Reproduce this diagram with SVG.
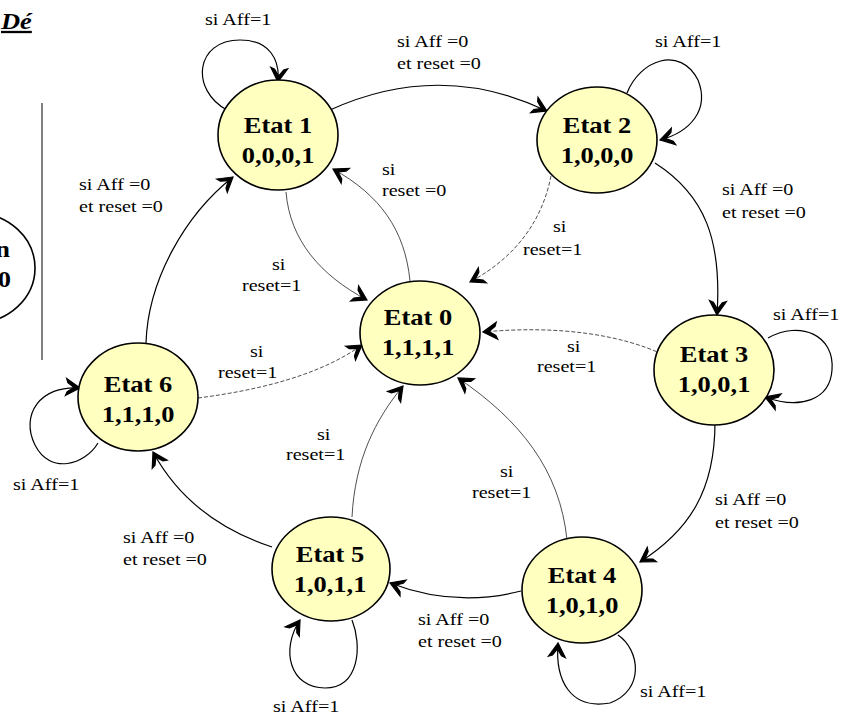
<svg xmlns="http://www.w3.org/2000/svg" width="842" height="718" viewBox="0 0 842 718">
  <defs>
    <style>
      .state ellipse { fill: #ffffc0; stroke: #000; stroke-width: 1.6; }
      .st { font-family: "Liberation Serif", "Times New Roman", serif; font-weight: bold; font-size: 23px; text-anchor: middle; fill: #000; }
      .lbl { font-family: "Liberation Serif", "Times New Roman", serif; font-size: 17.5px; fill: #000; }
      .aff { fill: none; stroke: #000; stroke-width: 1.2; marker-end: url(#head); }
      .rst { fill: none; stroke: #222; stroke-width: 0.8; marker-end: url(#head); }
      .rst.dash { stroke-dasharray: 4 2; }
    </style>
    <!-- barbed chevron arrowhead, tip at the path end -->
    <marker id="head" markerUnits="userSpaceOnUse" markerWidth="22" markerHeight="22" viewBox="-17 -11 22 22" refX="0" refY="0" orient="auto">
      <path d="M0,0 L-14,-8.5 L-12.5,-4.5 L-6,0 L-12.5,4.5 L-14,8.5 Z" fill="#000" stroke="#000" stroke-width="1.2" stroke-linejoin="miter"/>
    </marker>
  </defs>

  <rect width="842" height="718" fill="#fff"/>

  <!-- heading fragment and side panel at the left edge -->
  <g id="side-panel">
    <text class="st" style="font-style:italic;text-anchor:start;text-decoration:underline" transform="matrix(1.15 0 0 1 1 29)">Dé</text>
    <line x1="42" y1="103" x2="42" y2="360" stroke="#555" stroke-width="1.5"/>
  </g>
  <g id="node-partial">
    <ellipse cx="-25" cy="268" rx="60" ry="55" fill="none" stroke="#000" stroke-width="1.6"/>
    <text class="st" style="text-anchor:end" transform="matrix(1.15 0 0 1 10 257)">n</text>
    <text class="st" style="text-anchor:end" transform="matrix(1.15 0 0 1 11 287)">0</text>
  </g>

  <!-- transitions -->
  <g id="connectors">
    <!-- state-to-state when Aff=0 and reset=0 -->
    <path class="aff" d="M330,110 Q440,60 547,111"/>
    <path class="aff" d="M655,163 C705,195 722,240 717,315"/>
    <path class="aff" d="M715,422 C715,490 690,530 640,562"/>
    <path class="aff" d="M521,591 Q455,608 390,583"/>
    <path class="aff" d="M272,547 Q190,520 153,452"/>
    <path class="aff" d="M146,343 C148,280 185,215 233,177"/>
    <!-- self loops when Aff=1 -->
    <path class="aff" d="M227,110 C190,90 195,40 240,40 C270,40 280,60 278,82"/>
    <path class="aff" d="M627,93 C640,60 680,45 698,80 C710,110 690,132 660,140"/>
    <path class="aff" d="M768,338 C800,320 835,335 832,370 C830,400 800,410 765,397"/>
    <path class="aff" d="M618,635 C640,650 645,690 610,703 C570,710 555,680 558,643"/>
    <path class="aff" d="M352,620 C362,645 360,688 325,688 C290,688 280,650 300,620"/>
    <path class="aff" d="M98,443 C85,465 50,475 35,445 C20,415 40,385 80,388"/>
    <!-- reset transitions -->
    <path class="rst" d="M286,192 C290,240 320,275 367,300"/>
    <path class="rst" d="M410,281 C405,230 380,195 333,169"/>
    <path class="rst dash" d="M552,170 C545,215 520,255 470,282"/>
    <path class="rst dash" d="M662,354 C620,335 560,325 483,332"/>
    <path class="rst dash" d="M198,398 C260,390 320,375 362,345"/>
    <path class="rst" d="M352,517 C355,460 375,420 403,386"/>
    <path class="rst" d="M567,540 C560,470 520,420 458,378"/>
  </g>

  <!-- states -->
  <g id="etat0" class="state">
    <ellipse cx="420" cy="333" rx="60" ry="52"/>
    <text class="st" transform="matrix(1.15 0 0 1 418 325)">Etat 0</text>
    <text class="st" transform="matrix(1.15 0 0 1 418 355)">1,1,1,1</text>
  </g>
  <g id="etat1" class="state">
    <ellipse cx="278" cy="135" rx="60" ry="55"/>
    <text class="st" transform="matrix(1.15 0 0 1 278 133)">Etat 1</text>
    <text class="st" transform="matrix(1.15 0 0 1 278 163)">0,0,0,1</text>
  </g>
  <g id="etat2" class="state">
    <ellipse cx="597" cy="140" rx="60" ry="53"/>
    <text class="st" transform="matrix(1.15 0 0 1 597 133)">Etat 2</text>
    <text class="st" transform="matrix(1.15 0 0 1 597 163)">1,0,0,0</text>
  </g>
  <g id="etat3" class="state">
    <ellipse cx="714" cy="370" rx="60" ry="55"/>
    <text class="st" transform="matrix(1.15 0 0 1 714 362)">Etat 3</text>
    <text class="st" transform="matrix(1.15 0 0 1 714 392)">1,0,0,1</text>
  </g>
  <g id="etat4" class="state">
    <ellipse cx="582" cy="590" rx="60" ry="53"/>
    <text class="st" transform="matrix(1.15 0 0 1 582 583)">Etat 4</text>
    <text class="st" transform="matrix(1.15 0 0 1 582 613)">1,0,1,0</text>
  </g>
  <g id="etat5" class="state">
    <ellipse cx="331" cy="569" rx="59" ry="52"/>
    <text class="st" transform="matrix(1.15 0 0 1 330 562)">Etat 5</text>
    <text class="st" transform="matrix(1.15 0 0 1 330 592)">1,0,1,1</text>
  </g>
  <g id="etat6" class="state">
    <ellipse cx="138" cy="397" rx="60" ry="54"/>
    <text class="st" transform="matrix(1.15 0 0 1 138 392)">Etat 6</text>
    <text class="st" transform="matrix(1.15 0 0 1 138 422)">1,1,1,0</text>
  </g>

  <!-- transition labels -->
  <g id="labels">
    <text class="lbl" transform="matrix(1.15 0 0 1 205 25)">si Aff=1</text>
    <text class="lbl" transform="matrix(1.15 0 0 1 397 47)">si Aff =0</text>
    <text class="lbl" transform="matrix(1.15 0 0 1 397 69)">et reset =0</text>
    <text class="lbl" transform="matrix(1.15 0 0 1 655 47)">si Aff=1</text>
    <text class="lbl" transform="matrix(1.15 0 0 1 382 175)">si</text>
    <text class="lbl" transform="matrix(1.15 0 0 1 382 196)">reset =0</text>
    <text class="lbl" transform="matrix(1.15 0 0 1 79 190)">si Aff =0</text>
    <text class="lbl" transform="matrix(1.15 0 0 1 79 212)">et reset =0</text>
    <text class="lbl" transform="matrix(1.15 0 0 1 272 270)">si</text>
    <text class="lbl" transform="matrix(1.15 0 0 1 242 291)">reset=1</text>
    <text class="lbl" transform="matrix(1.15 0 0 1 553 232)">si</text>
    <text class="lbl" transform="matrix(1.15 0 0 1 523 255)">reset=1</text>
    <text class="lbl" transform="matrix(1.15 0 0 1 722 195)">si Aff =0</text>
    <text class="lbl" transform="matrix(1.15 0 0 1 722 218)">et reset =0</text>
    <text class="lbl" transform="matrix(1.15 0 0 1 773 320)">si Aff=1</text>
    <text class="lbl" transform="matrix(1.15 0 0 1 567 352)">si</text>
    <text class="lbl" transform="matrix(1.15 0 0 1 537 372)">reset=1</text>
    <text class="lbl" transform="matrix(1.15 0 0 1 250 357)">si</text>
    <text class="lbl" transform="matrix(1.15 0 0 1 218 378)">reset=1</text>
    <text class="lbl" transform="matrix(1.15 0 0 1 13 490)">si Aff=1</text>
    <text class="lbl" transform="matrix(1.15 0 0 1 123 543)">si Aff =0</text>
    <text class="lbl" transform="matrix(1.15 0 0 1 123 565)">et reset =0</text>
    <text class="lbl" transform="matrix(1.15 0 0 1 317 440)">si</text>
    <text class="lbl" transform="matrix(1.15 0 0 1 286 460)">reset=1</text>
    <text class="lbl" transform="matrix(1.15 0 0 1 500 477)">si</text>
    <text class="lbl" transform="matrix(1.15 0 0 1 472 498)">reset=1</text>
    <text class="lbl" transform="matrix(1.15 0 0 1 418 625)">si Aff =0</text>
    <text class="lbl" transform="matrix(1.15 0 0 1 418 647)">et reset =0</text>
    <text class="lbl" transform="matrix(1.15 0 0 1 273 712)">si Aff=1</text>
    <text class="lbl" transform="matrix(1.15 0 0 1 715 505)">si Aff =0</text>
    <text class="lbl" transform="matrix(1.15 0 0 1 715 528)">et reset =0</text>
    <text class="lbl" transform="matrix(1.15 0 0 1 640 697)">si Aff=1</text>
  </g>
</svg>
